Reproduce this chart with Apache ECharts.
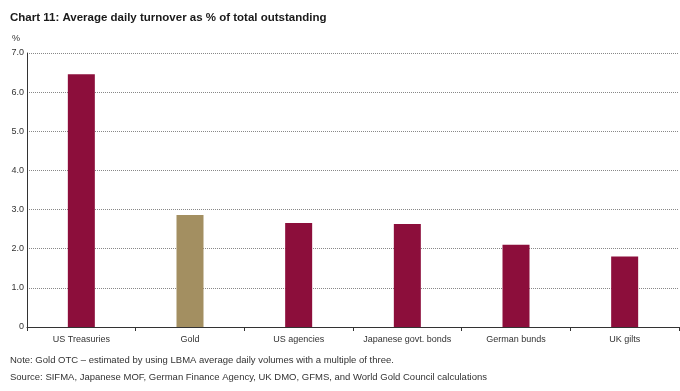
<!DOCTYPE html>
<html><head><meta charset="utf-8">
<script src="https://cdn.jsdelivr.net/npm/echarts@6/dist/echarts.min.js"></script>
<style>html,body{margin:0;padding:0;background:#fff}#c{width:680px;height:391px}</style>
</head><body><div id="c"></div>
<script>
const categories = ["US Treasuries", "Gold", "US agencies", "Japanese govt. bonds", "German bunds", "UK gilts"];
const turnover = [6.46, 2.86, 2.66, 2.63, 2.10, 1.80];
const yTicks = [0, 1, 2, 3, 4, 5, 6, 7];
const titleText = "Chart 11: Average daily turnover as % of total outstanding";
const noteText = "Note: Gold OTC \u2013 estimated by using LBMA average daily volumes with a multiple of three.";
const sourceText = "Source: SIFMA, Japanese MOF, German Finance Agency, UK DMO, GFMS, and World Gold Council calculations";

const maroon = "#8C0E3B", gold = "#A38F61";
const font = "Liberation Sans, Arial, sans-serif";
const chart = echarts.init(document.getElementById('c'));
chart.setOption({
  animation: false,
  title: {text: titleText, left: 5, top: 7, textStyle: {fontFamily: font, fontSize: 11.5, fontWeight: 'bold', color: '#1a1a1a'}},
  grid: {left: 27, right: 1, top: 53, bottom: 64, containLabel: false},
  graphic: [
    {type: 'text', left: 12, top: 34, style: {text: '%', font: '9px ' + font, fill: '#333'}},
    {type: 'text', left: 10, top: 355, style: {text: noteText, font: '9.5px ' + font, fill: '#333'}},
    {type: 'text', left: 10, top: 372, style: {text: sourceText, font: '9.5px ' + font, fill: '#333'}}
  ],
  xAxis: {
    type: 'category', data: categories, boundaryGap: true,
    axisLine: {lineStyle: {color: '#333', width: 1}},
    axisTick: {show: true, length: 4, lineStyle: {color: '#333'}},
    axisLabel: {fontFamily: font, fontSize: 9, color: '#333', margin: 8, interval: 0}
  },
  yAxis: {
    type: 'value', min: 0, max: 7, interval: 1,
    axisLine: {show: true, lineStyle: {color: '#333', width: 1}},
    axisTick: {show: false},
    splitLine: {show: true, lineStyle: {color: '#888', type: [1, 1], width: 1}},
    axisLabel: {fontFamily: font, fontSize: 9, color: '#333', margin: 3,
      formatter: v => yTicks.includes(v) ? (v === 0 ? '0' : v.toFixed(1)) : ''}
  },
  series: [{
    type: 'bar', barWidth: 27,
    data: turnover.map((v, i) => ({value: v, itemStyle: {color: categories[i] === 'Gold' ? gold : maroon}}))
  }]
});
</script></body></html>
